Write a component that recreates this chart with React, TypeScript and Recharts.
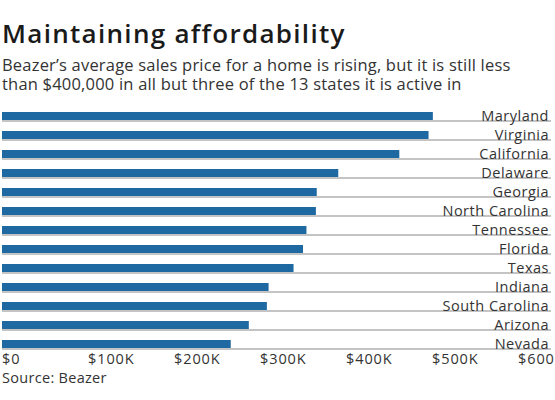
import React from "react";
import { BarChart, Bar, XAxis, YAxis } from "recharts";

// Beazer average sales price by state
const states = [
  "Maryland",
  "Virginia",
  "California",
  "Delaware",
  "Georgia",
  "North Carolina",
  "Tennessee",
  "Florida",
  "Texas",
  "Indiana",
  "South Carolina",
  "Arizona",
  "Nevada",
];
const prices = [501000, 496000, 462000, 391000, 366000, 365000, 354000, 350000, 339000, 310000, 308000, 287000, 266000];
const xTicks = [0, 100000, 200000, 300000, 400000, 500000, 600000];

const FONT = "'Open Sans', 'Noto Sans', sans-serif";
const BLUE = "#1f69a3";
const RULE = "#c4c4c4";
const TEXT = "#333333";

const data = states.map((s, i) => ({ state: s, price: prices[i] }));

function fmtTick(v: number): string {
  return v === 0 ? "$0" : "$" + v / 1000 + "K";
}

// gray rule under each bar, running past the plot to the right edge
function RuleBg(props: any) {
  const { x, y, height } = props;
  return <line x1={x} x2={551} y1={y + height + 1} y2={y + height + 1} stroke={RULE} strokeWidth={2} />;
}

function StateTick(props: any) {
  const { y, payload } = props;
  return (
    <text x={549} y={y + 5} textAnchor="end" fontSize={14.5} letterSpacing={0.5} fill={TEXT} fontFamily={FONT}>
      {payload.value}
    </text>
  );
}

function PriceTick(props: any) {
  const { x, y, payload } = props;
  return (
    <text x={x} y={y + 3} textAnchor="start" fontSize={14.5} letterSpacing={0.9} fill={TEXT} fontFamily={FONT}>
      {fmtTick(payload.value)}
    </text>
  );
}

export default function App() {
  return (
    <div style={{ position: "absolute", left: 0, top: 0, width: 555, height: 400, background: "#fff", fontFamily: FONT, overflow: "hidden" }}>
      <div style={{ position: "absolute", left: 2, top: 18, fontSize: 26, fontWeight: 600, letterSpacing: 1.3, color: "#1a1a1a", lineHeight: "30px", whiteSpace: "nowrap" }}>
        Maintaining affordability
      </div>
      <div style={{ position: "absolute", left: 2, top: 55, fontSize: 16.5, letterSpacing: 0.2, color: TEXT, lineHeight: "19px", whiteSpace: "nowrap" }}>
        Beazer’s average sales price for a home is rising, but it is still less
        <br />
        than $400,000 in all but three of the 13 states it is active in
      </div>
      <div style={{ position: "absolute", left: 0, top: 0 }}>
        <BarChart
          width={555}
          height={400}
          data={data}
          layout="vertical"
          margin={{ top: 106, right: 0, bottom: 17, left: 2 }}
          barCategoryGap={0}
        >
          <XAxis
            type="number"
            domain={[0, 600000]}
            ticks={xTicks}
            axisLine={false}
            tickLine={false}
            height={30}
            interval={0}
            tick={<PriceTick />}
          />
          <YAxis
            type="category"
            dataKey="state"
            orientation="right"
            width={37}
            axisLine={false}
            tickLine={false}
            interval={0}
            tick={<StateTick />}
          />
          <Bar dataKey="price" fill={BLUE} barSize={8} background={<RuleBg />} isAnimationActive={false} />
        </BarChart>
      </div>
      <div style={{ position: "absolute", left: 2, top: 369, fontSize: 14.5, letterSpacing: 0.3, color: TEXT, lineHeight: "18px" }}>
        Source: Beazer
      </div>
    </div>
  );
}
